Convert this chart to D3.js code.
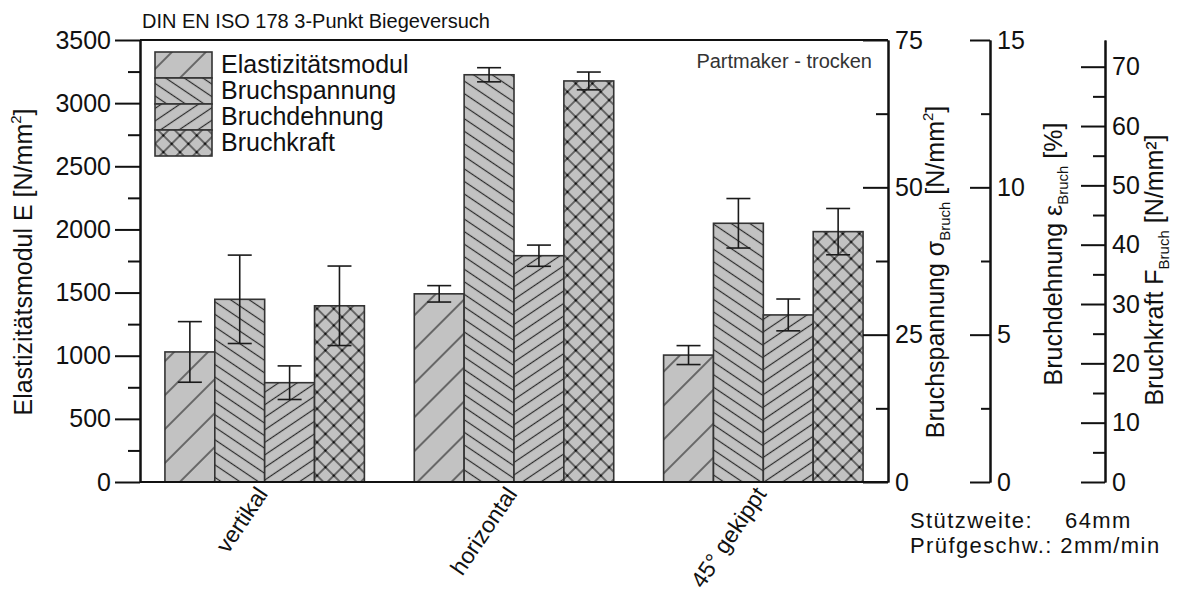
<!DOCTYPE html>
<html><head><meta charset="utf-8">
<script src="https://cdn.jsdelivr.net/npm/d3@7"></script>
<style>
body{margin:0;background:#fff;}
text{font-family:"Liberation Sans",Arial,Helvetica,sans-serif;fill:#111;}
</style></head><body>
<svg id="chart" width="1181" height="596"></svg>
<script>
// Sample orientations
const groups = ["vertikal", "horizontal", "45° gekippt"];
const seriesNames = ["Elastizitätsmodul", "Bruchspannung", "Bruchdehnung", "Bruchkraft"];

// Mean values and standard deviations per orientation
const eModul = [1030, 1490, 1005];          // N/mm²
const eModulErr = [240, 65, 75];
const bruchspannung = [31.0, 69.1, 43.9];   // N/mm²
const bruchspannungErr = [7.5, 1.2, 4.2];
const bruchdehnung = [3.37, 7.68, 5.67];    // %
const bruchdehnungErr = [0.57, 0.36, 0.54];
const bruchkraft = [29.7, 67.6, 42.2];      // N/mm²
const bruchkraftErr = [6.7, 1.5, 3.9];

// Axis ranges and tick steps
const eDomain = [0, 3500], eMajor = 500, eMinor = 250;
const sDomain = [0, 75], sMajor = 25, sMinor = 12.5;
const dDomain = [0, 15], dMajor = 5, dMinor = 2.5;
const fDomain = [0, 74.5], fMajor = 10, fMinor = 5;

const svg = d3.select("#chart");
const L = 140, R = 888, T = 40, B = 482;
const axis2X = 990, axis3X = 1105;

const x = d3.scaleBand(groups, [L, R]).paddingInner(0.2).paddingOuter(0.1);
const xs = d3.scaleBand(seriesNames, [0, x.bandwidth()]);
const yE = d3.scaleLinear(eDomain, [B, T]);
const yS = d3.scaleLinear(sDomain, [B, T]);
const yD = d3.scaleLinear(dDomain, [B, T]);
const yF = d3.scaleLinear(fDomain, [B, T]);

// Hatch patterns
const defs = svg.append("defs");
const FILL = "#c2c2c2", INK = "#2a2a2a";
function hatch(id, angle, spacing, cross) {
  const p = defs.append("pattern").attr("id", id)
    .attr("patternUnits", "userSpaceOnUse")
    .attr("width", spacing).attr("height", spacing)
    .attr("patternTransform", `rotate(${angle})`);
  p.append("rect").attr("width", spacing).attr("height", spacing).attr("fill", FILL);
  p.append("line").attr("x1", -1).attr("x2", spacing + 1).attr("y1", spacing / 2).attr("y2", spacing / 2)
    .attr("stroke", INK).attr("stroke-width", 1.2);
  if (cross) {
    p.append("line").attr("y1", -1).attr("y2", spacing + 1).attr("x1", spacing / 2).attr("x2", spacing / 2)
      .attr("stroke", INK).attr("stroke-width", 1.2);
    p.append("circle").attr("cx", spacing / 2).attr("cy", spacing / 2).attr("r", 1.3).attr("fill", "#111");
  }
}
hatch("hE", -45, 24, false);
hatch("hS", 34, 10.4, false);
hatch("hD", -34, 10.4, false);
hatch("hF", 45, 11.8, true);

const series = [
  {name: seriesNames[0], values: eModul, errors: eModulErr, y: yE, fill: "url(#hE)"},
  {name: seriesNames[1], values: bruchspannung, errors: bruchspannungErr, y: yS, fill: "url(#hS)"},
  {name: seriesNames[2], values: bruchdehnung, errors: bruchdehnungErr, y: yD, fill: "url(#hD)"},
  {name: seriesNames[3], values: bruchkraft, errors: bruchkraftErr, y: yF, fill: "url(#hF)"}
];

// Bars
const bars = svg.append("g");
series.forEach(s => {
  groups.forEach((g, i) => {
    bars.append("rect")
      .attr("x", x(g) + xs(s.name))
      .attr("y", s.y(s.values[i]))
      .attr("width", xs.bandwidth())
      .attr("height", s.y(0) - s.y(s.values[i]))
      .attr("fill", s.fill)
      .attr("stroke", "#333").attr("stroke-width", 1.6);
  });
});

// Error bars
const err = svg.append("g").attr("stroke", "#1a1a1a").attr("stroke-width", 1.6);
const cap = 12;
series.forEach(s => {
  groups.forEach((g, i) => {
    const cx = x(g) + xs(s.name) + xs.bandwidth() / 2;
    const hi = s.y(s.values[i] + s.errors[i]), lo = s.y(s.values[i] - s.errors[i]);
    err.append("line").attr("x1", cx).attr("x2", cx).attr("y1", hi).attr("y2", lo);
    err.append("line").attr("x1", cx - cap).attr("x2", cx + cap).attr("y1", hi).attr("y2", hi);
    err.append("line").attr("x1", cx - cap).attr("x2", cx + cap).attr("y1", lo).attr("y2", lo);
  });
});

// Frame
const frame = svg.append("g").attr("stroke", "#111").attr("stroke-width", 2);
frame.append("line").attr("x1", L).attr("x2", R).attr("y1", T).attr("y2", T);
frame.append("line").attr("x1", L).attr("x2", R).attr("y1", B).attr("y2", B);

// Axes
function styleAxis(g) {
  g.selectAll("path.domain").attr("stroke", "#111").attr("stroke-width", 2);
  g.selectAll(".tick line").attr("stroke", "#111").attr("stroke-width", 2);
  g.selectAll(".tick text").attr("font-size", 25).attr("fill", "#111")
    .style("font-family", '"Liberation Sans",Arial,sans-serif');
}
function minorTicks(domain, major, minor) {
  return d3.range(domain[0], domain[1] + 1e-9, minor).filter(v => Math.abs(v / major - Math.round(v / major)) > 1e-6);
}
function majorTicks(domain, major) {
  return d3.range(domain[0], domain[1] + 1e-9, major);
}

// Left axis: Elastizitätsmodul
const axE = svg.append("g").attr("transform", `translate(${L},0)`)
  .call(d3.axisLeft(yE).tickValues(majorTicks(eDomain, eMajor)).tickFormat(d3.format("d")).tickSize(25).tickSizeOuter(0).tickPadding(4));
styleAxis(axE);
const axEm = svg.append("g").attr("transform", `translate(${L},0)`)
  .call(d3.axisLeft(yE).tickValues(minorTicks(eDomain, eMajor, eMinor)).tickFormat("").tickSize(12).tickSizeOuter(0));
styleAxis(axEm);

// Right axes with inward ticks and labels on the outside
function rightAxis(xPos, scale, domain, major, minor, bigTick, smallTick) {
  const a = svg.append("g").attr("transform", `translate(${xPos},0)`)
    .call(d3.axisRight(scale).tickValues(majorTicks(domain, major)).tickFormat(d3.format("d"))
      .tickSizeInner(-bigTick).tickSizeOuter(0).tickPadding(7));
  styleAxis(a);
  const m = svg.append("g").attr("transform", `translate(${xPos},0)`)
    .call(d3.axisRight(scale).tickValues(minorTicks(domain, major, minor)).tickFormat("")
      .tickSizeInner(-smallTick).tickSizeOuter(0));
  styleAxis(m);
}
rightAxis(R, yS, sDomain, sMajor, sMinor, 25, 12);
rightAxis(axis2X, yD, dDomain, dMajor, dMinor, 20, 9);
rightAxis(axis3X, yF, fDomain, fMajor, fMinor, 24, 12);

// Axis titles (rotated)
function vTitle(xPos, yPos, parts) {
  const t = svg.append("text").attr("transform", `translate(${xPos},${yPos}) rotate(-90)`)
    .attr("text-anchor", "middle").attr("font-size", 25);
  parts.forEach(p => {
    const ts = t.append("tspan").text(p.t);
    if (p.sub) ts.attr("font-size", 15).attr("dy", 6);
    if (p.sup) ts.attr("font-size", 15).attr("dy", -11);
    if (p.back) ts.attr("dy", p.back);
  });
}
vTitle(32, 262, [{t: "Elastizitätsmodul E [N/mm"}, {t: "2", sup: true}, {t: "]", back: 11}]);
vTitle(944, 272, [{t: "Bruchspannung σ"}, {t: "Bruch", sub: true}, {t: " [N/mm", back: -6}, {t: "2", sup: true}, {t: "]", back: 11}]);
vTitle(1062, 254, [{t: "Bruchdehnung ε"}, {t: "Bruch", sub: true}, {t: " [%]", back: -6}]);
vTitle(1163, 270, [{t: "Bruchkraft F"}, {t: "Bruch", sub: true}, {t: " [N/mm²]", back: -6}]);

// Category labels
svg.append("g").selectAll("text").data(groups).join("text")
  .attr("transform", d => `translate(${x(d) + x.bandwidth() / 2 + 4},494) rotate(-56)`)
  .attr("text-anchor", "end").attr("font-size", 23).text(d => d);

// Legend
const lg = svg.append("g").attr("transform", "translate(155,52)");
series.forEach((s, i) => {
  lg.append("rect").attr("x", 0).attr("y", i * 26).attr("width", 57).attr("height", 26)
    .attr("fill", s.fill).attr("stroke", "#333").attr("stroke-width", 1.6);
  lg.append("text").attr("x", 66).attr("y", i * 26 + 21).attr("font-size", 25).text(s.name);
});

// Title and annotations
svg.append("text").attr("x", 142).attr("y", 28).attr("font-size", 20).text("DIN EN ISO 178 3-Punkt Biegeversuch");
svg.append("text").attr("x", 872).attr("y", 68).attr("text-anchor", "end").attr("font-size", 20)
  .style("fill", "#333").text("Partmaker - trocken");
const info = svg.append("g").attr("font-size", 22).attr("letter-spacing", 1.4);
info.append("text").attr("x", 910).attr("y", 528).text("Stützweite:");
info.append("text").attr("x", 1065).attr("y", 528).text("64mm");
info.append("text").attr("x", 910).attr("y", 553).text("Prüfgeschw.: 2mm/min");
</script>
</body></html>
